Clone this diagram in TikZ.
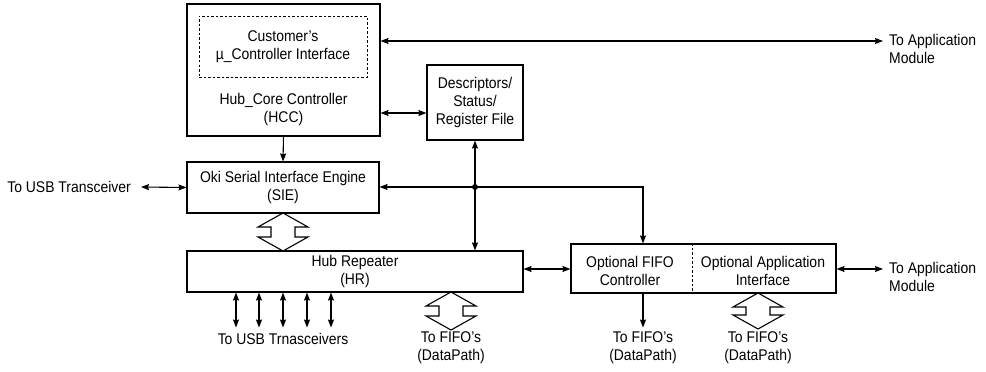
\documentclass[tikz,border=0pt]{standalone}
\usepackage{fontspec}
\setmainfont{Liberation Sans}[FakeStretch=0.9]
\usetikzlibrary{arrows.meta}

\tikzset{
  txt/.style={align=center, inner sep=0pt, font=\fontsize{15.5}{18}\selectfont},
  blk/.style={draw, line width=1.1pt, inner sep=0pt},
  fine/.style={line width=0.8pt, dash pattern=on 2.5pt off 2pt},
  tip/.tip={Stealth[length=8pt,width=6pt,inset=1pt]},
  sig/.style={line width=1.1pt, -tip},
  bisig/.style={line width=1.1pt, tip-tip},
}

% hollow double arrow: x, top, bottom
\newcommand{\hollowarrow}[3]{%
  \draw[line width=1.1pt, fill=white] (#1,#2) -- ++(25,14) -- ++(-13,0)
    -- (#1+12,#3-14) -- ++(13,0) -- (#1,#3) -- ++(-25,-14) -- ++(13,0)
    -- (#1-12,#2+14) -- ++(-13,0) -- cycle;}

\begin{document}
\begin{tikzpicture}[x=1pt,y=-1pt]
\useasboundingbox (0,0) rectangle (986,372);

% blocks
\node[blk, minimum width=193, minimum height=132] (hcc) at (283.5,70) {};
\node[blk, fine, minimum width=168, minimum height=61] (cust) at (283,46.5) {};
\node[txt] at (cust) {Customer's\\µ\_Controller Interface};
\node[txt] (hccname) at (283.5,109) {Hub\_Core Controller\\(HCC)};

\node[blk, minimum width=96, minimum height=75] (desc) at (475,102.5) {};
\node[txt] at (desc) {Descriptors/\\Status/\\Register File};

\node[blk, minimum width=192, minimum height=51] (sie) at (283,187.5) {};
\node[txt] at (sie) {Oki Serial Interface Engine\\(SIE)};

\node[blk, minimum width=336, minimum height=41] (hr) at (355,271.5) {};
\node[txt] at (hr) {Hub Repeater\\(HR)};

\node[blk, minimum width=265, minimum height=49] (fifo) at (703.5,268.5) {};
\draw[fine] (692,0 |- fifo.north) -- (692,0 |- fifo.south);
\node[txt] (fifoctl) at (630,271) {Optional FIFO\\Controller};
\node[txt] (appif) at (763,271) {Optional Application\\Interface};

% outside labels
\node[txt, anchor=east] (usbT) at (131,187) {To USB Transceiver};
\node[txt, anchor=west, align=left] (appTop) at (889,49) {To Application\\Module};
\node[txt, anchor=west, align=left] (appBot) at (889,277) {To Application\\Module};
\node[txt] (usbMany) at (283,339) {To USB Trnasceivers};
\node[txt] (hrPath) at (451,348) {To FIFO's\\(DataPath)};
\node[txt] (fifoPath) at (643,348) {To FIFO's\\(DataPath)};
\node[txt] (appPath) at (758,348) {To FIFO's\\(DataPath)};

\coordinate (topbus) at (883,41);
\coordinate (dot) at (475,187);
\coordinate (turn) at (643,187);
\coordinate (botbus) at (883,269);

% connectors
\draw[bisig] (hcc.east |- topbus) -- (topbus);
\draw[bisig] (hcc.east |- 0,113) -- (desc.west |- 0,113);
\draw[sig] (hcc.south) -- (sie.north);
\draw[bisig] ([xshift=10pt]usbT.east) -- (sie.west);
\draw[bisig] (desc.south) -- (hr.north -| desc.south);
\draw[sig] (dot) -- (sie.east |- dot);
\draw[sig] (dot) -- (turn) -- (turn |- fifo.north);
\fill (dot) circle (3);
\draw[bisig] (hr.east |- botbus) -- (fifo.west |- botbus);
\draw[bisig] (fifo.east |- botbus) -- (botbus);
\draw[sig] (turn |- fifo.south) -- ++(0,34);
\foreach \dx in {-119,-96,-72,-48,-24}
  \draw[bisig] ([xshift=\dx pt]hr.south) -- ++(0,35);

\hollowarrow{283}{213}{251}
\hollowarrow{451}{292}{330}
\hollowarrow{758}{293}{329}

\end{tikzpicture}
\end{document}
